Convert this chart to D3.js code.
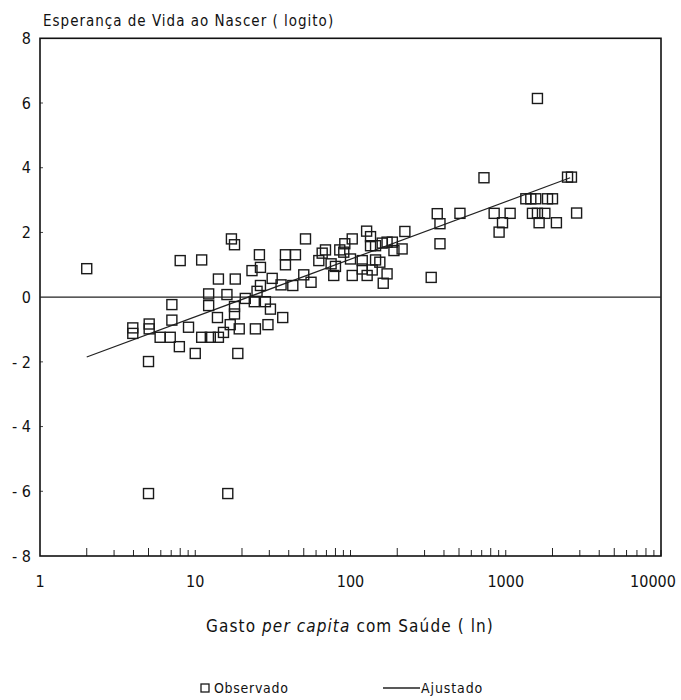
<!DOCTYPE html>
<html>
<head>
<meta charset="utf-8">
<script src="https://cdn.jsdelivr.net/npm/d3@7/dist/d3.min.js"></script>
<style>
  html, body { margin: 0; padding: 0; background: #fff; }
  svg { display: block; }
  text { font-family: "DejaVu Sans Condensed", "Liberation Sans Narrow", "Liberation Sans", sans-serif; fill: #111; }
</style>
</head>
<body>
<svg id="chart" width="681" height="700"></svg>
<script>
// Observed points: health spending per capita (x) and life expectancy logit (y)
const gasto = [
  2.0, 8.0, 11.0, 17.1, 17.9, 25.9, 23.2, 14.1, 18.1, 12.2,
  12.2, 16.0, 21.0, 24.0, 17.9, 17.9, 7.07, 7.07, 13.9, 3.96,
  3.96, 5.05, 5.05, 9.05, 5.94, 6.9, 7.9, 11.0, 12.5, 14.1,
  15.2, 16.8, 19.2, 24.4, 10.0, 18.8, 5.0, 26.3, 31.3, 26.3,
  25.0, 28.3, 30.5, 36.6, 29.4, 35.7, 42.5, 38.1, 38.1, 44.2,
  51.3, 50.0, 55.7, 62.5, 65.7, 69, 75, 80, 78, 85.3,
  91.9, 90.5, 102.6, 100, 102.6, 119, 119, 127, 134.6, 128,
  134.6, 145, 138, 145, 154.5, 160, 172, 186, 190.5, 215,
  172, 162.5, 224, 362, 377, 377, 331, 1600, 724, 2500,
  2650, 1347, 1450, 1560, 1858, 2000, 507, 842, 953, 906,
  1067, 1486, 1600, 1786, 1640, 2120, 2860, 5.0, 16.2
];
const logito = [
  0.88, 1.13, 1.15, 1.80, 1.62, 1.31, 0.82, 0.56, 0.56, 0.10,
  -0.26, 0.08, -0.04, -0.14, -0.29, -0.52, -0.23, -0.71, -0.63, -0.95,
  -1.12, -0.83, -0.98, -0.93, -1.24, -1.24, -1.53, -1.24, -1.24, -1.24,
  -1.09, -0.85, -0.98, -0.98, -1.74, -1.74, -1.99, 0.92, 0.58, 0.36,
  0.18, -0.14, -0.37, -0.63, -0.85, 0.38, 0.36, 1.31, 1.00, 1.31,
  1.80, 0.69, 0.46, 1.13, 1.36, 1.46, 1.03, 0.95, 0.67, 1.46,
  1.65, 1.39, 1.80, 1.18, 0.67, 1.13, 0.87, 2.04, 1.87, 0.67,
  1.59, 1.59, 0.84, 1.15, 1.08, 1.67, 1.70, 1.70, 1.44, 1.49,
  0.72, 0.43, 2.03, 2.58, 2.27, 1.65, 0.61, 6.14, 3.69, 3.71,
  3.71, 3.04, 3.04, 3.04, 3.04, 3.04, 2.59, 2.59, 2.30, 2.01,
  2.59, 2.59, 2.59, 2.59, 2.30, 2.30, 2.60, -6.07, -6.07
];
// Fitted line endpoints
const fitGasto = [2.0, 2600];
const fitLogito = [-1.85, 3.69];

// Tick labels
const xTickValues = [1, 10, 100, 1000, 10000];
const xTickLabels = ["1", "10", "100", "1000", "10000"];
const yTickValues = [8, 6, 4, 2, 0, -2, -4, -6, -8];
const yTickLabels = ["8", "6", "4", "2", "0", "- 2", "- 4", "- 6", "- 8"];

const titleY = "Esperança de Vida ao Nascer ( logito)";
const legendLabels = ["Observado", "Ajustado"];

const svg = d3.select("#chart");
const L = 40, R = 661, T = 38.3, B = 556;

const x = d3.scaleLog().domain([1, 10000]).range([L, R]);
const y = d3.scaleLinear().domain([-8, 8]).range([B, T]);

// Minor ticks along bottom axis (1..9 per decade)
const minor = [];
for (let d = 1; d <= 1000; d *= 10) for (let k = 1; k <= 9; k++) { if (d * k > 1) minor.push(d * k); }
minor.push(10000);
svg.append("g").selectAll("line").data(minor).join("line")
  .attr("x1", d => x(d)).attr("x2", d => x(d))
  .attr("y1", B).attr("y2", (d, i) => B - (i % 3 === 0 ? 8 : 6))
  .attr("stroke", "#222").attr("stroke-width", 1);

// Left axis small inner ticks
svg.append("g").selectAll("line").data(yTickValues.filter(v => v !== 8 && v !== -8 && v !== 0)).join("line")
  .attr("x1", L).attr("x2", L + 3)
  .attr("y1", d => y(d)).attr("y2", d => y(d))
  .attr("stroke", "#444").attr("stroke-width", 1);

// Frame
svg.append("rect").attr("x", L).attr("y", T).attr("width", R - L).attr("height", B - T)
  .attr("fill", "none").attr("stroke", "#111").attr("stroke-width", 1.6);

// Zero line
svg.append("line").attr("x1", L).attr("x2", R).attr("y1", y(0)).attr("y2", y(0))
  .attr("stroke", "#222").attr("stroke-width", 1.4);

// Y tick labels
svg.append("g").selectAll("text").data(yTickValues).join("text")
  .attr("x", 31).attr("y", d => y(d)).attr("dy", "0.36em")
  .attr("text-anchor", "end").attr("font-size", 16)
  .text((d, i) => yTickLabels[i]);

// X tick labels
svg.append("g").selectAll("text").data(xTickValues).join("text")
  .attr("x", d => x(d)).attr("y", 581).attr("dy", "0.36em")
  .attr("dx", (d, i) => i === xTickValues.length - 1 ? -8 : 0)
  .attr("text-anchor", "middle").attr("font-size", 16)
  .text((d, i) => xTickLabels[i]);

// Titles
svg.append("text").attr("x", 43).attr("y", 26).attr("font-size", 15)
  .attr("letter-spacing", 1.0).text(titleY);

const xt = svg.append("text").attr("x", 350).attr("y", 632).attr("text-anchor", "middle")
  .attr("font-size", 17).attr("letter-spacing", 1.1);
xt.append("tspan").text("Gasto ");
xt.append("tspan").attr("font-style", "italic").text("per capita");
xt.append("tspan").text(" com Saúde ( ln)");

// Fitted line
const fitData = fitGasto.map((g, i) => [g, fitLogito[i]]);
svg.append("path").datum(fitData)
  .attr("d", d3.line().x(d => x(d[0])).y(d => y(d[1])))
  .attr("fill", "none").attr("stroke", "#222").attr("stroke-width", 1.2);

// Observed points
const pts = gasto.map((g, i) => [g, logito[i]]);
const s = 10;
svg.append("g").selectAll("rect").data(pts).join("rect")
  .attr("x", d => x(d[0]) - s / 2).attr("y", d => y(d[1]) - s / 2)
  .attr("width", s).attr("height", s)
  .attr("fill", "none").attr("stroke", "#1a1a1a").attr("stroke-width", 1.4);

// Legend
const lg = svg.append("g");
lg.append("rect").attr("x", 201).attr("y", 684).attr("width", 8).attr("height", 8)
  .attr("fill", "none").attr("stroke", "#1a1a1a").attr("stroke-width", 1.3);
lg.append("text").attr("x", 214).attr("y", 688).attr("dy", "0.36em").attr("font-size", 14)
  .attr("letter-spacing", 0.7).text(legendLabels[0]);
lg.append("line").attr("x1", 383).attr("x2", 420).attr("y1", 688).attr("y2", 688)
  .attr("stroke", "#222").attr("stroke-width", 1.4);
lg.append("text").attr("x", 421).attr("y", 688).attr("dy", "0.36em").attr("font-size", 14)
  .attr("letter-spacing", 0.9).text(legendLabels[1]);
</script>
</body>
</html>
